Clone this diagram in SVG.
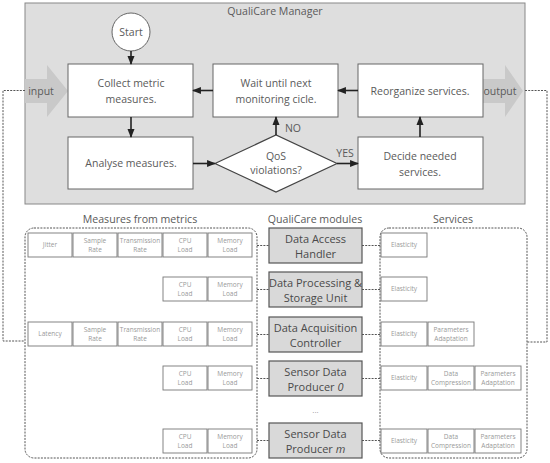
<svg xmlns="http://www.w3.org/2000/svg" width="550" height="463" viewBox="0 0 550 463">
<defs>
<style>
text{font-family:"Open Sans","Noto Sans","Liberation Sans",sans-serif;text-anchor:middle;}
.t{font-size:10.5px;fill:#5a5a5a;}
.h{font-size:10.6px;fill:#5a5a5a;}
.m{font-size:11px;fill:#4a4a4a;}
.s{font-size:6.5px;fill:#999;}
.fb{fill:#fff;stroke:#666;stroke-width:1;}
.mb{fill:#d9d9d9;stroke:#555;stroke-width:1.2;}
.sb{fill:#fff;stroke:#777;stroke-width:0.9;}
.ar{stroke:#222;stroke-width:1.6;fill:none;marker-end:url(#ah);}
.dl{stroke:#555;stroke-width:1;fill:none;stroke-dasharray:2,1.2;}
.big{fill:#c9c9c9;}
</style>
<marker id="ah" viewBox="0 0 10 10" refX="9" refY="5" markerWidth="5.5" markerHeight="5.5" orient="auto" markerUnits="strokeWidth">
<path d="M0,1 L10,5 L0,9 z" fill="#222"/>
</marker>
</defs>

<g id="manager">
<rect x="25" y="3" width="500" height="201" fill="#dedede" stroke="#888" stroke-width="1"/>
<text class="h" x="275" y="15">QualiCare Manager</text>
</g>

<g id="input-arrow">
<path class="big" d="M25,79 H47 V65 L68,91 L47,117 V103 H25 z"/>
<text class="t" x="41" y="95">input</text>
</g>
<g id="output-arrow">
<path class="big" d="M483,79 H505 V65 L523,91 L505,117 V103 H483 z"/>
<text class="t" x="500" y="95">output</text>
</g>

<g id="start">
<circle cx="131" cy="32" r="19" fill="#fff" stroke="#666" stroke-width="1"/>
<text class="t" x="131" y="36">Start</text>
</g>
<g id="collect">
<rect class="fb" x="68" y="64" width="125" height="53"/>
<text class="t" x="131" y="87">Collect metric</text>
<text class="t" x="131" y="103">measures.</text>
</g>
<g id="wait">
<rect class="fb" x="213" y="64" width="125" height="53"/>
<text class="t" x="276" y="87">Wait until next</text>
<text class="t" x="276" y="103">monitoring cicle.</text>
</g>
<g id="reorganize">
<rect class="fb" x="358" y="64" width="125" height="53"/>
<text class="t" x="420" y="95">Reorganize services.</text>
</g>
<g id="analyse">
<rect class="fb" x="68" y="137" width="125" height="52"/>
<text class="t" x="131" y="167">Analyse measures.</text>
</g>
<g id="decide">
<rect class="fb" x="358" y="137" width="125" height="52"/>
<text class="t" x="420" y="160">Decide needed</text>
<text class="t" x="420" y="176">services.</text>
</g>
<g id="qos">
<path d="M215,163.5 L276,135 L337,163.5 L276,192 z" fill="#fff" stroke="#444" stroke-width="1.2"/>
<text class="t" x="276" y="160">QoS</text>
<text class="t" x="276" y="174">violations?</text>
</g>

<g id="flow-connectors">
<path class="ar" d="M131,51 V64"/>
<path class="ar" d="M131,117 V137"/>
<path class="ar" d="M193,163.5 H215"/>
<path class="ar" d="M337,163.5 H358"/>
<path class="ar" d="M276,135 V117"/>
<path class="ar" d="M420,137 V117"/>
<path class="ar" d="M358,90.5 H338"/>
<path class="ar" d="M213,90.5 H193"/>
<text class="t" x="293" y="132">NO</text>
<text class="t" x="345" y="157">YES</text>
</g>

<g id="labels">
<text class="h" x="140" y="223">Measures from metrics</text>
<text class="h" x="315" y="223">QualiCare modules</text>
<text class="h" x="453" y="223">Services</text>
</g>

<g id="measures">
<rect class="dl" x="25" y="228" width="232" height="230" rx="9"/>
<g id="m-row1">
<rect class="sb" x="28" y="233" width="44" height="24"/><text class="s" x="50" y="247">Jitter</text>
<rect class="sb" x="73" y="233" width="44" height="24"/><text class="s" x="95" y="243">Sample</text><text class="s" x="95" y="252">Rate</text>
<rect class="sb" x="118" y="233" width="44" height="24"/><text class="s" x="140" y="243">Transmission</text><text class="s" x="140" y="252">Rate</text>
<rect class="sb" x="163" y="233" width="44" height="24"/><text class="s" x="185" y="243">CPU</text><text class="s" x="185" y="252">Load</text>
<rect class="sb" x="208" y="233" width="44" height="24"/><text class="s" x="230" y="243">Memory</text><text class="s" x="230" y="252">Load</text>
</g>
<g id="m-row2">
<rect class="sb" x="163" y="277" width="44" height="24"/><text class="s" x="185" y="287">CPU</text><text class="s" x="185" y="296">Load</text>
<rect class="sb" x="208" y="277" width="44" height="24"/><text class="s" x="230" y="287">Memory</text><text class="s" x="230" y="296">Load</text>
</g>
<g id="m-row3">
<rect class="sb" x="28" y="322" width="44" height="24"/><text class="s" x="50" y="336">Latency</text>
<rect class="sb" x="73" y="322" width="44" height="24"/><text class="s" x="95" y="332">Sample</text><text class="s" x="95" y="341">Rate</text>
<rect class="sb" x="118" y="322" width="44" height="24"/><text class="s" x="140" y="332">Transmission</text><text class="s" x="140" y="341">Rate</text>
<rect class="sb" x="163" y="322" width="44" height="24"/><text class="s" x="185" y="332">CPU</text><text class="s" x="185" y="341">Load</text>
<rect class="sb" x="208" y="322" width="44" height="24"/><text class="s" x="230" y="332">Memory</text><text class="s" x="230" y="341">Load</text>
</g>
<g id="m-row4">
<rect class="sb" x="163" y="366" width="44" height="24"/><text class="s" x="185" y="376">CPU</text><text class="s" x="185" y="385">Load</text>
<rect class="sb" x="208" y="366" width="44" height="24"/><text class="s" x="230" y="376">Memory</text><text class="s" x="230" y="385">Load</text>
</g>
<g id="m-row5">
<rect class="sb" x="163" y="429" width="44" height="24"/><text class="s" x="185" y="439">CPU</text><text class="s" x="185" y="448">Load</text>
<rect class="sb" x="208" y="429" width="44" height="24"/><text class="s" x="230" y="439">Memory</text><text class="s" x="230" y="448">Load</text>
</g>
</g>

<g id="mod-dah"><rect class="mb" x="269" y="228" width="93" height="35"/><text class="m" x="315.5" y="243">Data Access</text><text class="m" x="315.5" y="258">Handler</text></g>
<g id="mod-dpsu"><rect class="mb" x="269" y="272" width="93" height="35"/><text class="m" x="315.5" y="287">Data Processing &amp;</text><text class="m" x="315.5" y="302">Storage Unit</text></g>
<g id="mod-dac"><rect class="mb" x="269" y="317" width="93" height="35"/><text class="m" x="315.5" y="332">Data Acquisition</text><text class="m" x="315.5" y="347">Controller</text></g>
<g id="mod-sdp0"><rect class="mb" x="269" y="361" width="93" height="35"/><text class="m" x="315.5" y="376">Sensor Data</text><text class="m" x="315.5" y="391">Producer <tspan font-style="italic">0</tspan></text></g>
<text class="s" x="315.5" y="413" style="font-size:8px">...</text>
<g id="mod-sdpm"><rect class="mb" x="269" y="423" width="93" height="35"/><text class="m" x="315.5" y="438">Sensor Data</text><text class="m" x="315.5" y="453">Producer <tspan font-style="italic">m</tspan></text></g>

<g id="services">
<rect class="dl" x="380" y="228" width="147" height="230" rx="9"/>
<g id="s-row1"><rect class="sb" x="381" y="233" width="46" height="24"/><text class="s" x="404" y="247">Elasticity</text></g>
<g id="s-row2"><rect class="sb" x="381" y="277" width="46" height="24"/><text class="s" x="404" y="291">Elasticity</text></g>
<g id="s-row3">
<rect class="sb" x="381" y="322" width="46" height="24"/><text class="s" x="404" y="336">Elasticity</text>
<rect class="sb" x="428" y="322" width="46" height="24"/><text class="s" x="451" y="332">Parameters</text><text class="s" x="451" y="341">Adaptation</text>
</g>
<g id="s-row4">
<rect class="sb" x="381" y="366" width="46" height="24"/><text class="s" x="404" y="380">Elasticity</text>
<rect class="sb" x="428" y="366" width="46" height="24"/><text class="s" x="451" y="376">Data</text><text class="s" x="451" y="385">Compression</text>
<rect class="sb" x="475" y="366" width="46" height="24"/><text class="s" x="498" y="376">Parameters</text><text class="s" x="498" y="385">Adaptation</text>
</g>
<g id="s-row5">
<rect class="sb" x="381" y="429" width="46" height="24"/><text class="s" x="404" y="443">Elasticity</text>
<rect class="sb" x="428" y="429" width="46" height="24"/><text class="s" x="451" y="439">Data</text><text class="s" x="451" y="448">Compression</text>
<rect class="sb" x="475" y="429" width="46" height="24"/><text class="s" x="498" y="439">Parameters</text><text class="s" x="498" y="448">Adaptation</text>
</g>
</g>

<g id="dashed-connectors">
<path class="dl" d="M25,90.5 H3 V341 H25"/>
<path class="dl" d="M525,90.5 H547 V342 H527"/>
<path class="dl" d="M257,245.5 H269 M362,245.5 H380"/>
<path class="dl" d="M257,289.5 H269 M362,289.5 H380"/>
<path class="dl" d="M257,334.5 H269 M362,334.5 H380"/>
<path class="dl" d="M257,378.5 H269 M362,378.5 H380"/>
<path class="dl" d="M257,440.5 H269 M362,440.5 H380"/>
</g>
</svg>
